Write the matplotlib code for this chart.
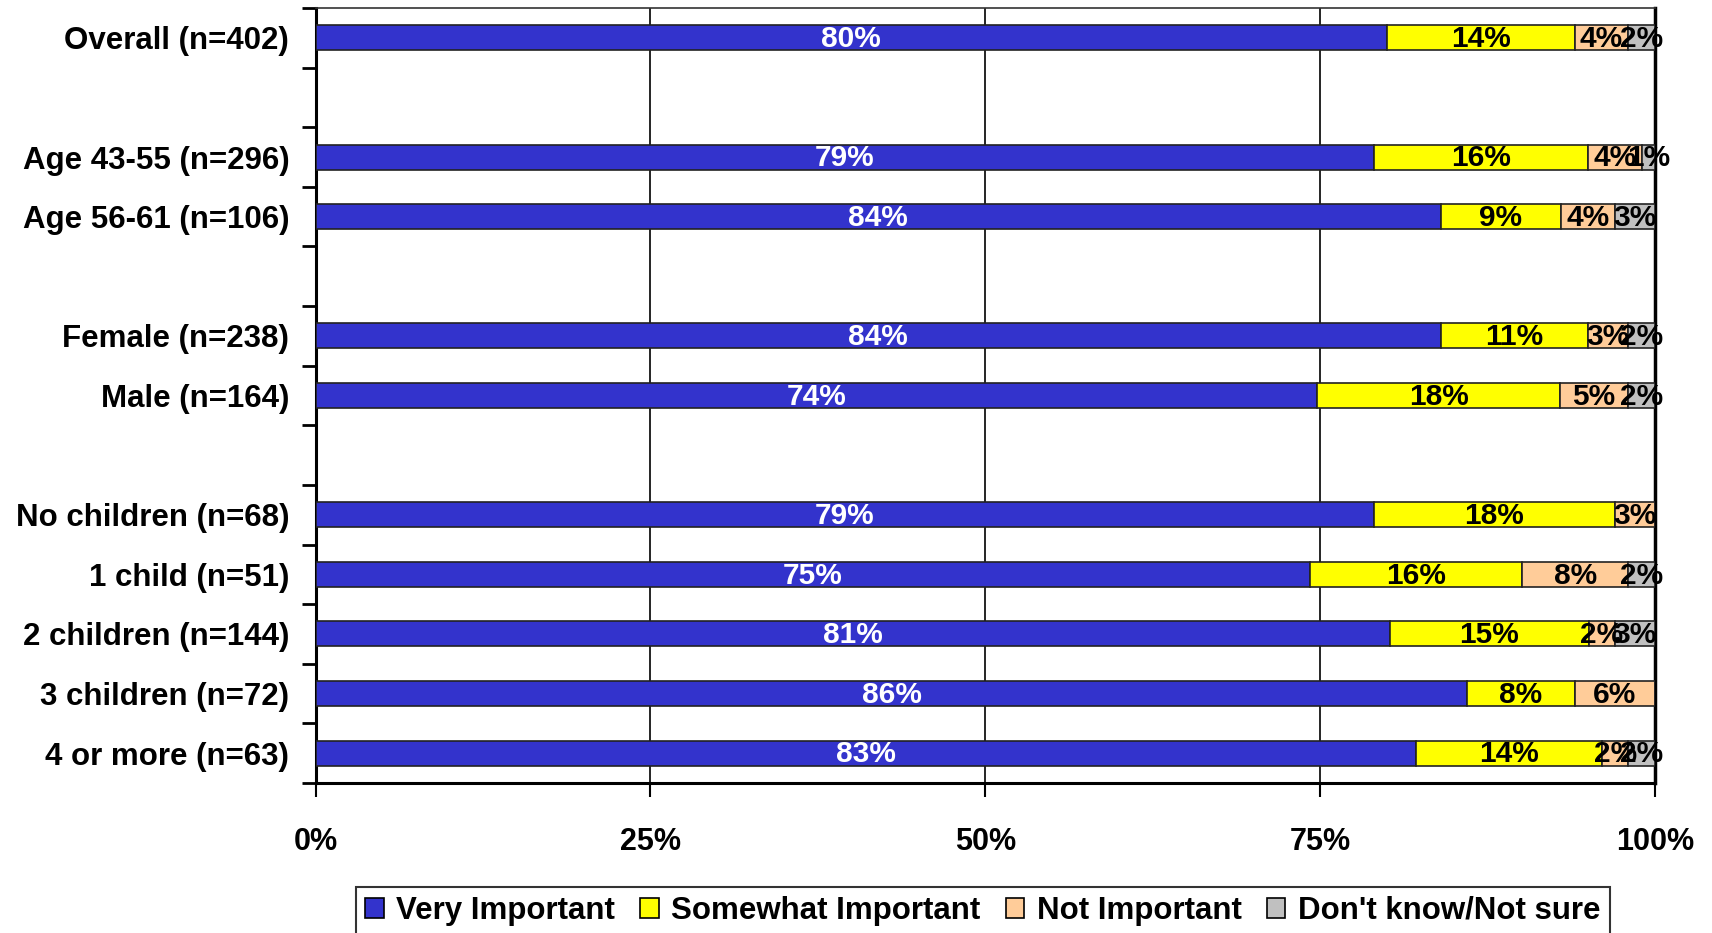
import numpy as np
import matplotlib
matplotlib.use("Agg")
import matplotlib.pyplot as plt
from matplotlib.patches import Patch

plt.rcParams['font.family'] = ['Liberation Sans', 'DejaVu Sans']
plt.rcParams['font.weight'] = 'bold'

# Data ('' rows are the blank spacer rows between groups)
categories = ["Overall (n=402)", "",
              "Age 43-55 (n=296)", "Age 56-61 (n=106)", "",
              "Female (n=238)", "Male (n=164)", "",
              "No children (n=68)", "1 child (n=51)", "2 children (n=144)",
              "3 children (n=72)", "4 or more (n=63)"]
very_important = [80, None, 79, 84, None, 84, 74, None, 79, 75, 81, 86, 83]
somewhat_important = [14, None, 16, 9, None, 11, 18, None, 18, 16, 15, 8, 14]
not_important = [4, None, 4, 4, None, 3, 5, None, 3, 8, 2, 6, 2]
dont_know = [2, None, 1, 3, None, 2, 2, None, 0, 2, 3, 0, 2]

series_names = ["Very Important", "Somewhat Important", "Not Important", "Don't know/Not sure"]
colors = ['#3333CC', '#FFFF00', '#FFCC99', '#C0C0C0']
text_colors = ['white', 'black', 'black', 'black']
xtick_labels = ["0%", "25%", "50%", "75%", "100%"]

vals = np.array([very_important, somewhat_important, not_important, dont_know], dtype=float)
rows = np.arange(len(categories))
has_data = ~np.isnan(vals[0])
# 100% stacked: each row scaled so it fills the axis
shares = vals / np.nansum(vals, axis=0) * 100

fig = plt.figure(figsize=(17.12, 9.33), dpi=100)
ax = fig.add_axes([0.1843, 0.1608, 0.7824, 0.8306])

left = np.zeros(len(categories))
for i in range(4):
    w = np.where(has_data, shares[i], 0)
    ax.barh(rows[has_data], w[has_data], left=left[has_data], height=0.42,
            color=colors[i], edgecolor='#222222', linewidth=1.2, zorder=3)
    for r in rows[has_data]:
        if vals[i, r] > 0:
            ax.text(left[r] + w[r] / 2, r + 0.02, f"{vals[i, r]:.0f}%", ha='center', va='center',
                    color=text_colors[i], fontsize=21.5, fontweight='bold', zorder=4, clip_on=False)
    left += w

ax.set_xlim(0, 100)
ax.set_ylim(len(categories) - 0.5, -0.5)

ax.set_xticks([0, 25, 50, 75, 100])
ax.set_xticklabels(xtick_labels, fontsize=22, fontweight='bold')
ax.tick_params(axis='x', direction='out', length=10, width=1.5, pad=22)

# tick marks between categories, labels at category centres
ax.set_yticks(np.arange(-0.5, len(categories), 1))
ax.set_yticklabels([])
ax.tick_params(axis='y', which='major', direction='out', length=10, width=2)
ax.set_yticks(rows, minor=True)
ax.set_yticklabels(categories, minor=True, fontsize=22.5, fontweight='bold')
ax.tick_params(axis='y', which='minor', length=0, pad=19)

ax.grid(True, axis='x', color='black', linewidth=1.2, zorder=0)
for s in ['left', 'bottom']:
    ax.spines[s].set_linewidth(2.2)
ax.spines['right'].set_linewidth(2.5)
ax.spines['top'].set_linewidth(1.2)
ax.spines['top'].set_color('#333333')

handles = [Patch(facecolor=c, edgecolor='black', linewidth=1.2) for c in colors]
leg = fig.legend(handles, series_names, loc='upper center', bbox_to_anchor=(0.574, 0.0498),
                 ncol=4, frameon=True, fancybox=False, edgecolor='black',
                 prop={'size': 22.5, 'weight': 'bold'}, handlelength=0.6, handleheight=0.6,
                 handletextpad=0.4, columnspacing=0.8, borderpad=0.3, borderaxespad=0)
leg.get_frame().set_linewidth(1.5)

fig.savefig('out.png', dpi=100)
